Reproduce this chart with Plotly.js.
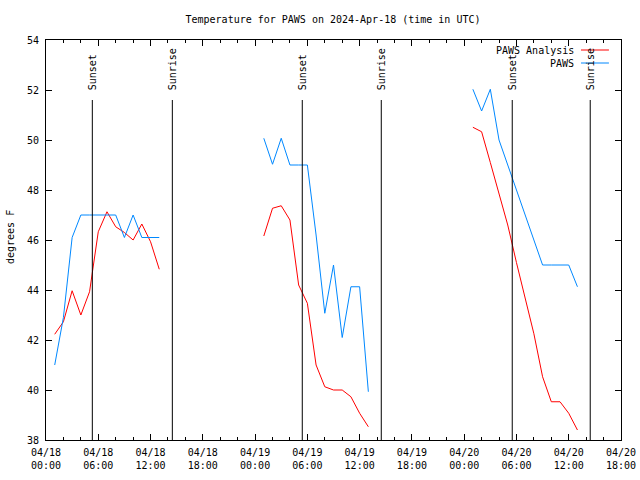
<!DOCTYPE html>
<html>
<head>
<meta charset="utf-8">
<script src="https://cdn.plot.ly/plotly-3.0.1.min.js"></script>
<style>html,body{margin:0;padding:0;background:#fff;}#chart{width:640px;height:480px;}</style>
</head>
<body>
<div id="chart"></div>
<script>
// ---- data ----
const days = ['2024-04-18', '2024-04-19', '2024-04-20'];
const hours = ['01:00','02:00','03:00','04:00','05:00','06:00','07:00','08:00','09:00','10:00','11:00','12:00','13:00'];

const analysisDay1 = [42.23, 42.73, 43.97, 43.0, 43.93, 46.33, 47.13, 46.53, 46.3, 46.0, 46.64, 45.93, 44.83];
const analysisDay2 = [46.16, 47.27, 47.37, 46.8, 44.2, 43.47, 41.0, 40.13, 40.0, 40.0, 39.73, 39.07, 38.53];
const analysisDay3 = [50.51, 50.33, 49.1, 47.9, 46.6, 45.1, 43.7, 42.25, 40.53, 39.53, 39.53, 39.07, 38.4];

const pawsDay1 = [41.0, 42.9, 46.1, 47.0, 47.0, 47.0, 47.0, 47.0, 46.1, 47.0, 46.1, 46.1, 46.1];
const pawsDay2 = [50.07, 49.03, 50.07, 49.0, 49.0, 49.0, 46.2, 43.07, 45.0, 42.1, 44.13, 44.13, 39.93];
const pawsDay3 = [52.03, 51.16, 52.03, 50.0, 49.0, 48.0, 47.0, 46.0, 45.0, 45.0, 45.0, 45.0, 44.13];

const sunsetTimes = ['2024-04-18 05:19', '2024-04-19 05:25', '2024-04-20 05:31'];
const sunriseTimes = ['2024-04-18 14:30', '2024-04-19 14:29', '2024-04-20 14:28'];

const seriesNames = ['PAWS Analysis', 'PAWS'];
const seriesColors = ['#ff0000', '#0088ff'];

// ---- build series (null between days breaks the line) ----
function build(dayVals) {
  const x = [], y = [];
  dayVals.forEach((vals, d) => {
    vals.forEach((v, i) => { x.push(days[d] + ' ' + hours[i]); y.push(v); });
    if (d < dayVals.length - 1) { x.push(days[d] + ' 18:00'); y.push(null); }
  });
  return {x, y};
}
const an = build([analysisDay1, analysisDay2, analysisDay3]);
const pw = build([pawsDay1, pawsDay2, pawsDay3]);

const FONT = 'DejaVu Sans Mono, Liberation Mono, monospace';

const traces = [
  {x: an.x, y: an.y, type: 'scatter', mode: 'lines', name: seriesNames[0],
   line: {color: seriesColors[0], width: 1}, connectgaps: false, showlegend: false},
  {x: pw.x, y: pw.y, type: 'scatter', mode: 'lines', name: seriesNames[1],
   line: {color: seriesColors[1], width: 1}, connectgaps: false, showlegend: false}
];

const shapes = [];
const annotations = [];
function sunMark(t, label) {
  shapes.push({type: 'line', xref: 'x', yref: 'paper', x0: t, x1: t, y0: 0, y1: 0.85,
               line: {color: '#000', width: 1}});
  annotations.push({xref: 'x', yref: 'paper', x: t, y: 0.87, text: label, textangle: -90,
                    showarrow: false, xanchor: 'center', yanchor: 'bottom',
                    font: {family: FONT, size: 10, color: '#000'}});
}
sunsetTimes.forEach(t => sunMark(t, 'Sunset'));
sunriseTimes.forEach(t => sunMark(t, 'Sunrise'));

// legend drawn gnuplot-style (text right, sample line after)
const legY = [0.975, 0.9425];
seriesNames.forEach((n, i) => {
  annotations.push({xref: 'paper', yref: 'paper', x: 0.921, y: legY[i], text: n, showarrow: false,
                    xanchor: 'right', yanchor: 'middle', font: {family: FONT, size: 10, color: '#000'}});
  shapes.push({type: 'line', xref: 'paper', yref: 'paper', x0: 0.9304, x1: 0.979, y0: legY[i], y1: legY[i],
               line: {color: seriesColors[i], width: 1}});
});

// y axis title
annotations.push({xref: 'paper', yref: 'paper', x: -0.0626, y: 0.5075, text: 'degrees F', textangle: -90,
                  showarrow: false, xanchor: 'center', yanchor: 'middle',
                  font: {family: FONT, size: 10, color: '#000'}});

const layout = {
  width: 640, height: 480,
  margin: {l: 46, r: 19, t: 40, b: 40, pad: 0},
  paper_bgcolor: '#fff', plot_bgcolor: '#fff',
  font: {family: FONT, size: 10, color: '#000'},
  title: {text: 'Temperature for PAWS on 2024-Apr-18 (time in UTC)', x: 333/640, xanchor: 'center',
          xref: 'container', y: 1 - 19/480, yanchor: 'middle', yref: 'container',
          font: {family: FONT, size: 10, color: '#000'}},
  xaxis: {type: 'date', range: ['2024-04-18 00:00', '2024-04-20 18:00'],
          tick0: '2024-04-18 00:00', dtick: 21600000, tickformat: '%m/%d<br>%H:%M',
          ticks: 'inside', ticklen: 6, tickcolor: '#000', tickwidth: 1,
          minor: {dtick: 7200000, tick0: '2024-04-18 00:00', ticks: 'inside', ticklen: 3, tickcolor: '#000', showgrid: false},
          showline: true, linecolor: '#000', linewidth: 1, mirror: 'ticks',
          showgrid: false, zeroline: false, fixedrange: true, ticklabelstandoff: 3,
          tickfont: {family: FONT, size: 10, color: '#000'}},
  yaxis: {range: [38, 54], dtick: 2, tick0: 38,
          ticks: 'inside', ticklen: 6, tickcolor: '#000', tickwidth: 1,
          showline: true, linecolor: '#000', linewidth: 1, mirror: 'ticks',
          showgrid: false, zeroline: false, fixedrange: true, ticklabelstandoff: 4,
          tickfont: {family: FONT, size: 10, color: '#000'}},
  shapes: shapes,
  annotations: annotations,
  showlegend: false
};

Plotly.newPlot('chart', traces, layout, {staticPlot: true, displayModeBar: false});
</script>
</body>
</html>
